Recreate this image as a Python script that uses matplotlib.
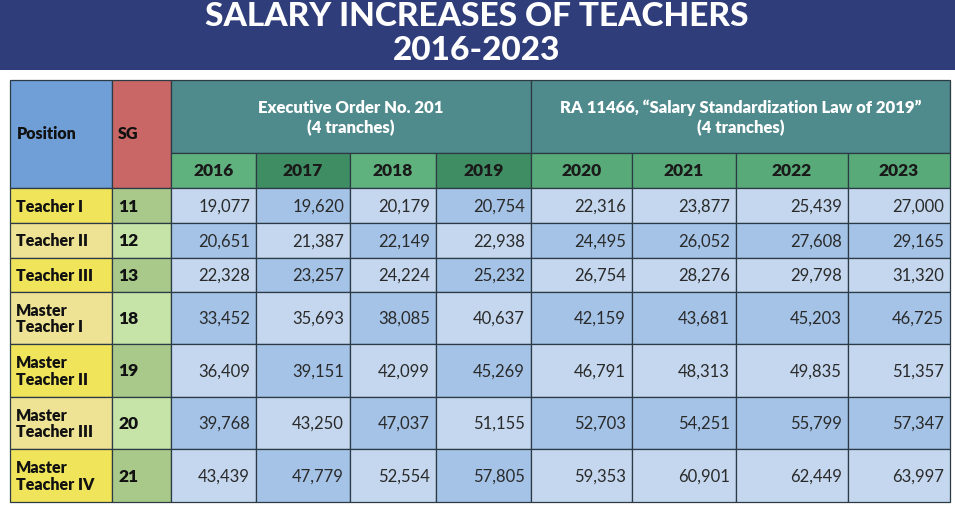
import matplotlib.pyplot as plt
from matplotlib.patches import Rectangle

plt.rcParams['font.family'] = ['Lato', 'DejaVu Sans']

positions = ['Teacher I', 'Teacher II', 'Teacher III', 'Master\nTeacher I',
             'Master\nTeacher II', 'Master\nTeacher III', 'Master\nTeacher IV']
sg = [11, 12, 13, 18, 19, 20, 21]
years = ['2016', '2017', '2018', '2019', '2020', '2021', '2022', '2023']
eo_title = 'Executive Order No. 201\n(4 tranches)'
ra_title = 'RA 11466, \u201cSalary Standardization Law of 2019\u201d\n(4 tranches)'
salaries = [
    [19077, 19620, 20179, 20754, 22316, 23877, 25439, 27000],
    [20651, 21387, 22149, 22938, 24495, 26052, 27608, 29165],
    [22328, 23257, 24224, 25232, 26754, 28276, 29798, 31320],
    [33452, 35693, 38085, 40637, 42159, 43681, 45203, 46725],
    [36409, 39151, 42099, 45269, 46791, 48313, 49835, 51357],
    [39768, 43250, 47037, 51155, 52703, 54251, 55799, 57347],
    [43439, 47779, 52554, 57805, 59353, 60901, 62449, 63997],
]

# layout in pixels
col_x = [10, 112, 171, 256, 350, 436, 531, 632, 736, 848, 950]
top, grp_bot, yr_bot = 80, 153, 188
row_y = [188, 223, 258, 292, 344, 397, 449, 502]

navy = '#2f3d7a'
teal = '#4f8a8c'
pos_blue = '#6f9fd6'
sg_red = '#c86766'
green_l = '#5fb27e'
green_d = '#3f8e63'
green_m = '#58ab78'
blue_l = '#c4d7ee'
blue_d = '#a4c3e7'
yel_b = '#efe45a'
yel_p = '#eee294'
sgg_d = '#a8c98a'
sgg_l = '#c6e3a8'
edge = '#2b3a44'

fig = plt.figure(figsize=(9.55, 5.12), dpi=100)
ax = fig.add_axes([0, 0, 1, 1])
ax.set_xlim(0, 955)
ax.set_ylim(512, 0)
ax.axis('off')


def cell(x0, x1, y0, y1, color):
    ax.add_patch(Rectangle((x0, y0), x1 - x0, y1 - y0, facecolor=color,
                           edgecolor=edge, linewidth=0.9))


# title band
ax.add_patch(Rectangle((0, 0), 955, 70, facecolor=navy, edgecolor='none'))
ax.text(477, 17, 'SALARY INCREASES OF TEACHERS', color='white', fontsize=24,
        fontweight='black', ha='center', va='center')
ax.text(477, 51, '2016-2023', color='white', fontsize=24,
        fontweight='black', ha='center', va='center')

# header
cell(col_x[0], col_x[1], top, yr_bot, pos_blue)
cell(col_x[1], col_x[2], top, yr_bot, sg_red)
ax.text(col_x[0] + 7, 134, 'Position', fontsize=11.5, fontweight='heavy',
        ha='left', va='center', color='#111111')
ax.text(col_x[1] + 6, 134, 'SG', fontsize=11.5, fontweight='heavy',
        ha='left', va='center', color='#111111')
cell(col_x[2], col_x[6], top, grp_bot, teal)
cell(col_x[6], col_x[10], top, grp_bot, teal)
ax.text((col_x[2] + col_x[6]) / 2, 118, eo_title, fontsize=12,
        fontweight='heavy', ha='center', va='center', color='white',
        linespacing=1.25)
ax.text((col_x[6] + col_x[10]) / 2, 118, ra_title, fontsize=12,
        fontweight='heavy', ha='center', va='center', color='white',
        linespacing=1.25)

for j, yr in enumerate(years):
    if j < 4:
        c = green_l if j % 2 == 0 else green_d
    else:
        c = green_m
    cell(col_x[j + 2], col_x[j + 3], grp_bot, yr_bot, c)
    ax.text((col_x[j + 2] + col_x[j + 3]) / 2, (grp_bot + yr_bot) / 2 + 1, yr,
            fontsize=12.5, fontweight='heavy', ha='center', va='center',
            color='#1a1a1a')

# body
for i in range(len(positions)):
    y0, y1 = row_y[i], row_y[i + 1]
    ym = (y0 + y1) / 2
    cell(col_x[0], col_x[1], y0, y1, yel_b if i % 2 == 0 else yel_p)
    cell(col_x[1], col_x[2], y0, y1, sgg_d if i % 2 == 0 else sgg_l)
    ax.text(col_x[0] + 6, ym + 1, positions[i], fontsize=11.5, fontweight='heavy',
            ha='left', va='center', color='#111111', linespacing=1.05)
    ax.text(col_x[1] + 6, ym + 1, str(sg[i]), fontsize=12.5, fontweight='heavy',
            ha='left', va='center', color='#111111')
    for j in range(len(years)):
        if j < 4:
            c = blue_l if (i + j) % 2 == 0 else blue_d
        else:
            c = blue_l if i % 2 == 0 else blue_d
        cell(col_x[j + 2], col_x[j + 3], y0, y1, c)
        ax.text(col_x[j + 3] - 6, ym + 1, f'{salaries[i][j]:,}', fontsize=12,
                ha='right', va='center', color='#2a2a2a')

fig.savefig('out.png', dpi=100)
